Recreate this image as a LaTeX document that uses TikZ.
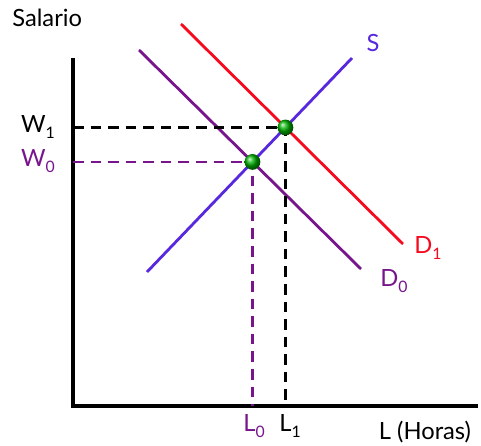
\documentclass[tikz,border=0pt]{standalone}
\usepackage{fontspec}
\setmainfont{Lato}
\usetikzlibrary{intersections}
\definecolor{sblue}{RGB}{88,40,222}
\definecolor{dpurple}{RGB}{120,20,140}
\definecolor{dred}{RGB}{245,10,30}
\newcommand{\sub}[1]{\raisebox{-0.45ex}{\small #1}}
\begin{document}
\begin{tikzpicture}[x=0.02cm,y=-0.02cm,
  axis/.style={line width=2.2pt,black},
  curve/.style={line width=1.6pt},
  guide/.style={dashed,line width=1.3pt,dash pattern=on 6pt off 4pt},
  lbl/.style={font=\fontsize{13.5}{16}\selectfont,inner sep=0pt},
  eq/.style={circle,inner sep=0pt,minimum size=9pt,ball color=green!70!black,draw=none}]
\useasboundingbox (0,0) rectangle (481,446);
\coordinate (o) at (73,406);
\coordinate (ytop) at (73,58);
\coordinate (xend) at (478,406);
\draw[axis] (ytop) -- (o) -- (xend);
\node[lbl,anchor=west] (sal) at (12,18) {Salario};
\coordinate (s0) at (147,272); \coordinate (s1) at (352,58);
\coordinate (d10) at (181,24); \coordinate (d11) at (403,244);
\coordinate (d00) at (139,50); \coordinate (d01) at (361,269);
\draw[curve,sblue,name path=S] (s0) -- (s1);
\draw[curve,dred,name path=D1] (d10) -- (d11);
\draw[curve,dpurple,name path=D0] (d00) -- (d01);
\path[name intersections={of=S and D1,by=e1}];
\path[name intersections={of=S and D0,by=e0}];
\coordinate (w1) at (o |- e1);
\coordinate (w0) at (o |- e0);
\coordinate (l1) at (e1 |- o);
\coordinate (l0) at (e0 |- o);
\draw[guide,black] (w1) -- (e1) -- (l1);
\draw[guide,dpurple] (w0) -- (e0) -- (l0);
\node[eq] (E1) at (e1) {};
\node[eq] (E0) at (e0) {};
\node[lbl,sblue] (Slab) at (373,43) {S};
\node[lbl,dred] (D1lab) at (428,248) {D\sub{1}};
\node[lbl,dpurple] (D0lab) at (394,281) {D\sub{0}};
\node[lbl,black] (W1lab) at (38,127) {W\sub{1}};
\node[lbl,dpurple] (W0lab) at (38,161) {W\sub{0}};
\node[lbl,dpurple] (L0lab) at (254,426) {L\sub{0}};
\node[lbl,black] (L1lab) at (290,426) {L\sub{1}};
\node[lbl,black] (Llab) at (425,432) {L (Horas)};
\end{tikzpicture}
\end{document}
